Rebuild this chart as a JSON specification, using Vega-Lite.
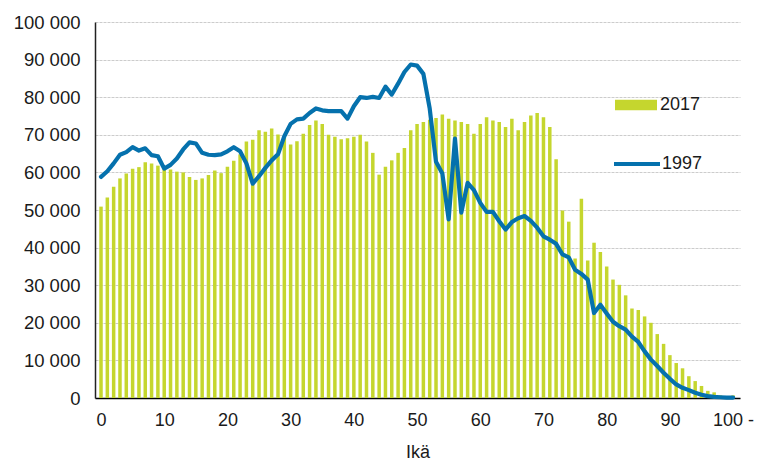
{
  "$schema": "https://vega.github.io/schema/vega-lite/v6.json",
  "width": 645,
  "height": 376,
  "autosize": {"type": "none"},
  "padding": {"left": 95, "top": 22, "right": 20, "bottom": 63},
  "config": {
    "font": "Liberation Sans",
    "view": {"stroke": null},
    "locale": {"number": {"decimal": ",", "thousands": " ", "grouping": [3], "currency": ["", " €"]}},
    "axisY": {
      "labelOverlap": false,
      "ticks": false,
      "domain": true,
      "domainColor": "#222222",
      "domainWidth": 1.5,
      "gridColor": "#cccccc",
      "gridDash": [3, 1],
      "labelFontSize": 18.5,
      "labelColor": "#1a1a1a",
      "labelPadding": 15
    }
  },
  "data": {
    "values": [
      {"age": 0, "v2017": 50900, "v1997": 58800},
      {"age": 1, "v2017": 53300, "v1997": 60300},
      {"age": 2, "v2017": 56200, "v1997": 62400},
      {"age": 3, "v2017": 58400, "v1997": 64700},
      {"age": 4, "v2017": 59700, "v1997": 65400},
      {"age": 5, "v2017": 61000, "v1997": 66700},
      {"age": 6, "v2017": 61400, "v1997": 65800},
      {"age": 7, "v2017": 62700, "v1997": 66400},
      {"age": 8, "v2017": 62400, "v1997": 64600},
      {"age": 9, "v2017": 61800, "v1997": 64300},
      {"age": 10, "v2017": 61000, "v1997": 61000},
      {"age": 11, "v2017": 60800, "v1997": 62000},
      {"age": 12, "v2017": 60200, "v1997": 63700},
      {"age": 13, "v2017": 60000, "v1997": 66100},
      {"age": 14, "v2017": 58800, "v1997": 68000},
      {"age": 15, "v2017": 58000, "v1997": 67700},
      {"age": 16, "v2017": 58400, "v1997": 65200},
      {"age": 17, "v2017": 59300, "v1997": 64700},
      {"age": 18, "v2017": 60500, "v1997": 64600},
      {"age": 19, "v2017": 59800, "v1997": 64800},
      {"age": 20, "v2017": 61500, "v1997": 65600},
      {"age": 21, "v2017": 63100, "v1997": 66700},
      {"age": 22, "v2017": 64800, "v1997": 65600},
      {"age": 23, "v2017": 68200, "v1997": 62400},
      {"age": 24, "v2017": 68700, "v1997": 57000},
      {"age": 25, "v2017": 71200, "v1997": 59000},
      {"age": 26, "v2017": 70800, "v1997": 61200},
      {"age": 27, "v2017": 71700, "v1997": 63200},
      {"age": 28, "v2017": 70100, "v1997": 64800},
      {"age": 29, "v2017": 69500, "v1997": 69600},
      {"age": 30, "v2017": 67400, "v1997": 72900},
      {"age": 31, "v2017": 68300, "v1997": 74100},
      {"age": 32, "v2017": 70300, "v1997": 74300},
      {"age": 33, "v2017": 72600, "v1997": 75800},
      {"age": 34, "v2017": 73800, "v1997": 77000},
      {"age": 35, "v2017": 72900, "v1997": 76500},
      {"age": 36, "v2017": 70000, "v1997": 76300},
      {"age": 37, "v2017": 69500, "v1997": 76300},
      {"age": 38, "v2017": 68800, "v1997": 76300},
      {"age": 39, "v2017": 69100, "v1997": 74300},
      {"age": 40, "v2017": 69500, "v1997": 77600},
      {"age": 41, "v2017": 70000, "v1997": 80000},
      {"age": 42, "v2017": 68200, "v1997": 79800},
      {"age": 43, "v2017": 65200, "v1997": 80100},
      {"age": 44, "v2017": 59400, "v1997": 79800},
      {"age": 45, "v2017": 61500, "v1997": 82800},
      {"age": 46, "v2017": 63200, "v1997": 80700},
      {"age": 47, "v2017": 65200, "v1997": 83600},
      {"age": 48, "v2017": 66500, "v1997": 86700},
      {"age": 49, "v2017": 71200, "v1997": 88700},
      {"age": 50, "v2017": 72900, "v1997": 88400},
      {"age": 51, "v2017": 73400, "v1997": 86200},
      {"age": 52, "v2017": 74000, "v1997": 77000},
      {"age": 53, "v2017": 74500, "v1997": 62800},
      {"age": 54, "v2017": 75400, "v1997": 59700},
      {"age": 55, "v2017": 74300, "v1997": 47500},
      {"age": 56, "v2017": 73800, "v1997": 69000},
      {"age": 57, "v2017": 73400, "v1997": 49300},
      {"age": 58, "v2017": 72900, "v1997": 57200},
      {"age": 59, "v2017": 70300, "v1997": 55300},
      {"age": 60, "v2017": 72900, "v1997": 51900},
      {"age": 61, "v2017": 74700, "v1997": 49500},
      {"age": 62, "v2017": 73800, "v1997": 49500},
      {"age": 63, "v2017": 73400, "v1997": 47000},
      {"age": 64, "v2017": 72100, "v1997": 44800},
      {"age": 65, "v2017": 74300, "v1997": 46800},
      {"age": 66, "v2017": 71200, "v1997": 47800},
      {"age": 67, "v2017": 73400, "v1997": 48400},
      {"age": 68, "v2017": 75100, "v1997": 47100},
      {"age": 69, "v2017": 75800, "v1997": 45300},
      {"age": 70, "v2017": 74700, "v1997": 43000},
      {"age": 71, "v2017": 72100, "v1997": 42100},
      {"age": 72, "v2017": 63500, "v1997": 41000},
      {"age": 73, "v2017": 49900, "v1997": 38200},
      {"age": 74, "v2017": 46900, "v1997": 37400},
      {"age": 75, "v2017": 37100, "v1997": 34100},
      {"age": 76, "v2017": 53000, "v1997": 33000},
      {"age": 77, "v2017": 36600, "v1997": 31500},
      {"age": 78, "v2017": 41300, "v1997": 22600},
      {"age": 79, "v2017": 38800, "v1997": 24800},
      {"age": 80, "v2017": 35000, "v1997": 22500},
      {"age": 81, "v2017": 31500, "v1997": 20300},
      {"age": 82, "v2017": 30100, "v1997": 19100},
      {"age": 83, "v2017": 27300, "v1997": 18200},
      {"age": 84, "v2017": 23800, "v1997": 16300},
      {"age": 85, "v2017": 23400, "v1997": 14900},
      {"age": 86, "v2017": 21700, "v1997": 12400},
      {"age": 87, "v2017": 20000, "v1997": 10200},
      {"age": 88, "v2017": 17000, "v1997": 8500},
      {"age": 89, "v2017": 14400, "v1997": 6700},
      {"age": 90, "v2017": 11400, "v1997": 5100},
      {"age": 91, "v2017": 9300, "v1997": 3600},
      {"age": 92, "v2017": 7900, "v1997": 2700},
      {"age": 93, "v2017": 5800, "v1997": 2100},
      {"age": 94, "v2017": 4500, "v1997": 1400},
      {"age": 95, "v2017": 3200, "v1997": 850},
      {"age": 96, "v2017": 1900, "v1997": 500},
      {"age": 97, "v2017": 1500, "v1997": 300},
      {"age": 98, "v2017": 700, "v1997": 200},
      {"age": 99, "v2017": 400, "v1997": 100},
      {"age": 100, "v2017": 700, "v1997": 100}
    ]
  },
  "encoding": {
    "x": {
      "field": "age",
      "type": "quantitative",
      "scale": {"domain": [-0.16, 100.3], "nice": false, "zero": false},
      "axis": {
        "title": "Ikä",
        "values": [0, 10, 20, 30, 40, 50, 60, 70, 80, 90, 100],
        "labelExpr": "datum.value == 100 ? '100 -' : datum.value",
        "labelOverlap": false,
        "grid": false,
        "ticks": false,
        "domainColor": "#000000",
        "domainWidth": 1.5,
        "labelFontSize": 18,
        "labelColor": "#1a1a1a",
        "labelPadding": 13,
        "titleFontSize": 18,
        "titleFontWeight": "normal",
        "titleColor": "#1a1a1a",
        "titlePadding": 14
      }
    }
  },
  "layer": [
    {
      "mark": {"type": "bar", "width": 3.5},
      "encoding": {
        "y": {
          "field": "v2017",
          "type": "quantitative",
          "scale": {"domain": [0, 100000], "nice": false},
          "axis": {
            "title": null,
            "values": [0, 10000, 20000, 30000, 40000, 50000, 60000, 70000, 80000, 90000, 100000],
            "format": ",d"
          }
        },
        "fill": {
          "datum": "2017",
          "scale": {"domain": ["2017"], "range": ["#c5d62e"]},
          "legend": {
            "title": null,
            "orient": "none",
            "legendX": 520,
            "legendY": 62,
            "padding": 0,
            "symbolType": "M-1,-0.25H1V0.25H-1Z",
            "symbolSize": 1764,
            "symbolStrokeWidth": 0,
            "symbolOpacity": 1,
            "labelFontSize": 18,
            "labelColor": "#1a1a1a",
            "labelOffset": 3
          }
        }
      }
    },
    {
      "mark": {"type": "line", "strokeWidth": 4.2, "strokeJoin": "round", "strokeCap": "round"},
      "encoding": {
        "y": {
          "field": "v1997",
          "type": "quantitative",
          "axis": {
            "title": null,
            "values": [0, 10000, 20000, 30000, 40000, 50000, 60000, 70000, 80000, 90000, 100000],
            "format": ",d"
          }
        },
        "stroke": {
          "datum": "1997",
          "scale": {"domain": ["1997"], "range": ["#0571ad"]},
          "legend": {
            "title": null,
            "orient": "none",
            "legendX": 517,
            "legendY": 117,
            "padding": 0,
            "symbolType": "stroke",
            "symbolSize": 2116,
            "symbolStrokeWidth": 4,
            "labelFontSize": 18,
            "labelColor": "#1a1a1a",
            "labelOffset": 0
          }
        }
      }
    }
  ]
}
